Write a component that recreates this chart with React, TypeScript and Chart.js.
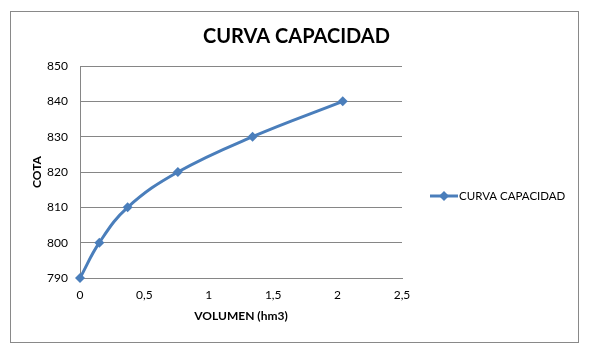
import React, { useEffect, useRef } from "react";
import { Chart, registerables } from "chart.js";

Chart.register(...registerables);

const seriesLabel = "CURVA CAPACIDAD";
const volumes = [0, 0.15, 0.37, 0.76, 1.34, 2.04];
const cotas = [790, 800, 810, 820, 830, 840];
const xTickLabels = ["0", "0,5", "1", "1,5", "2", "2,5"];
const yTickLabels = ["790", "800", "810", "820", "830", "840", "850"];

const BLUE = "#4A7EBB";
const GRID = "#868686";
const FONT = "Lato";

const sideLegend = {
  id: "sideLegend",
  afterDraw(chart: any) {
    const ctx = chart.ctx;
    const ds = chart.data.datasets[0];
    const y = 196;
    ctx.save();
    ctx.strokeStyle = ds.borderColor;
    ctx.lineWidth = 3;
    ctx.beginPath();
    ctx.moveTo(430, y);
    ctx.lineTo(458, y);
    ctx.stroke();
    ctx.fillStyle = ds.backgroundColor;
    ctx.beginPath();
    ctx.moveTo(444, y - 5);
    ctx.lineTo(449, y);
    ctx.lineTo(444, y + 5);
    ctx.lineTo(439, y);
    ctx.closePath();
    ctx.fill();
    ctx.font = `11.5px ${FONT}`;
    ctx.fillStyle = "#000";
    ctx.textBaseline = "middle";
    ctx.textAlign = "left";
    ctx.fillText(ds.label, 459, y);
    ctx.restore();
  },
};

export default function App() {
  const ref = useRef<HTMLCanvasElement | null>(null);
  useEffect(() => {
    if (!ref.current) return;
    const chart = new Chart(ref.current, {
      type: "line",
      data: {
        datasets: [
          {
            label: seriesLabel,
            data: volumes.map((v, i) => ({ x: v, y: cotas[i] })),
            borderColor: BLUE,
            backgroundColor: BLUE,
            borderWidth: 3,
            tension: 0.4,
            pointStyle: "rectRot",
            pointRadius: 5,
            pointBorderWidth: 0,
            pointBackgroundColor: BLUE,
            fill: false,
            clip: false,
          },
        ],
      },
      plugins: [sideLegend],
      options: {
        responsive: false,
        animation: false,
        layout: { padding: { top: 10, left: 14, right: 12, bottom: 20 } },
        plugins: {
          legend: { display: false },
          tooltip: { enabled: false },
          title: {
            display: true,
            text: seriesLabel,
            color: "#000",
            font: { family: FONT, size: 20, weight: "bold" },
            padding: { top: 15, bottom: 17 },
          },
        },
        scales: {
          x: {
            type: "linear",
            min: 0,
            max: 2.5,
            afterFit: (s: any) => {
              s.height = 58;
            },
            ticks: {
              stepSize: 0.5,
              padding: 10,
              color: "#000",
              font: { family: FONT, size: 12 },
              callback: (_v: any, i: number) => xTickLabels[i],
            },
            grid: { display: false, drawTicks: false },
            border: { display: true, color: GRID, width: 1 },
            title: {
              display: true,
              text: "VOLUMEN (hm3)",
              color: "#000",
              font: { family: FONT, size: 12, weight: "bold" },
              padding: { top: 0, bottom: 13 },
            },
          },
          y: {
            type: "linear",
            min: 790,
            max: 850,
            afterFit: (s: any) => {
              s.width = 66;
            },
            ticks: {
              stepSize: 10,
              padding: 12,
              color: "#000",
              font: { family: FONT, size: 12 },
              callback: (_v: any, i: number) => yTickLabels[i],
            },
            grid: { color: GRID, lineWidth: 1, drawTicks: false },
            border: { display: true, color: GRID, width: 1 },
            title: {
              display: true,
              text: "COTA",
              color: "#000",
              font: { family: FONT, size: 12, weight: "bold" },
              padding: { top: 16, bottom: 0 },
            },
          },
          legendSpace: {
            type: "linear",
            position: "right",
            display: true,
            afterFit: (s: any) => {
              s.width = 177;
            },
            ticks: { display: false },
            grid: { display: false, drawOnChartArea: false, drawTicks: false },
            border: { display: false },
          },
        },
      },
    });
    return () => chart.destroy();
  }, []);

  return (
    <div style={{ position: "fixed", left: 0, top: 0, width: 591, height: 356, background: "#fff" }}>
      <div
        style={{
          position: "absolute",
          left: 10,
          top: 11,
          width: 567,
          height: 330,
          border: "1px solid #898989",
        }}
      />
      <canvas ref={ref} width={591} height={356} style={{ position: "absolute", left: 0, top: 0 }} />
    </div>
  );
}
